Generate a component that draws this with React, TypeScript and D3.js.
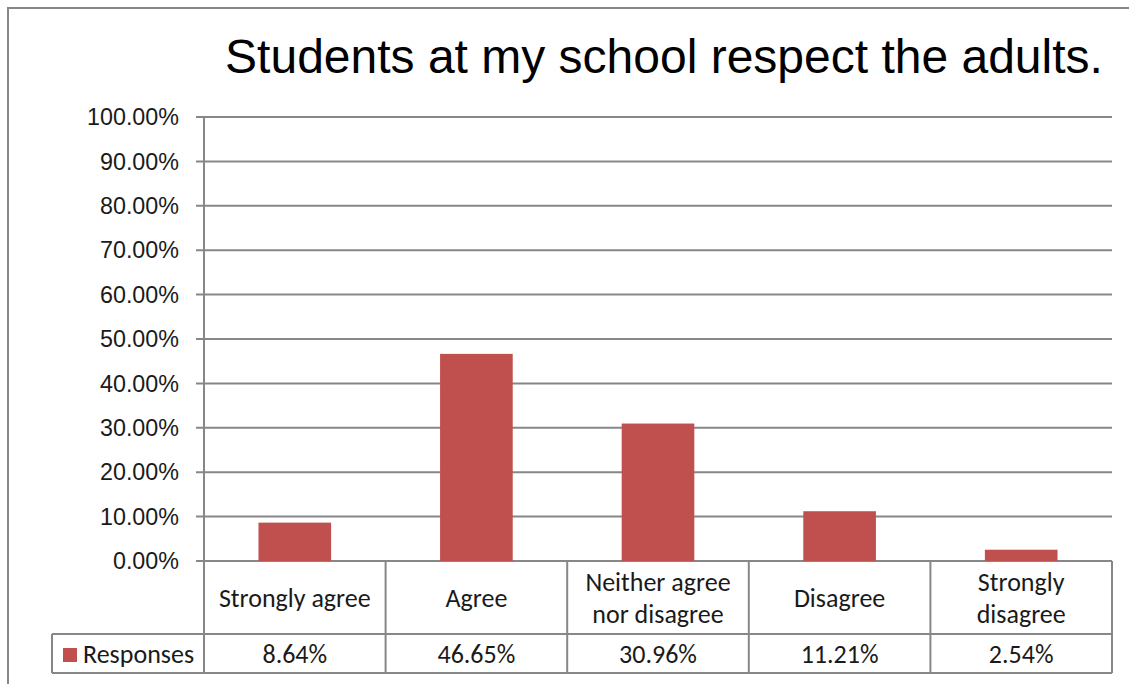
import React from "react";
import * as d3 from "d3";

const title = "Students at my school respect the adults.";
const categories = ["Strongly agree", "Agree", "Neither agree nor disagree", "Disagree", "Strongly disagree"];
const categoryLines = [["Strongly agree"], ["Agree"], ["Neither agree", "nor disagree"], ["Disagree"], ["Strongly", "disagree"]];
const seriesName = "Responses";
const values = [8.64, 46.65, 30.96, 11.21, 2.54];
const yTicks = [0, 10, 20, 30, 40, 50, 60, 70, 80, 90, 100];

const W = 1129;
const H = 684;
const plot = { left: 204, right: 1112, top: 117, bottom: 561 };
const row1Bottom = 634;
const row2Bottom = 673;
const legendLeft = 52;
const grid = "#878787";
const barColor = "#C0504D";
const tableFont = "Carlito, Calibri, Lato, sans-serif";
const axisFont = "'Liberation Sans', Arial, sans-serif";

export default function App() {
  const x = d3
    .scaleBand<string>()
    .domain(categories)
    .range([plot.left, plot.right])
    .paddingInner(0.6)
    .paddingOuter(0.3);
  const y = d3.scaleLinear().domain([0, 100]).range([plot.bottom, plot.top]);
  const step = x.step();
  const colEdges = categories.map((c) => (x(c) as number) - x.paddingOuter() * step);

  return (
    <svg
      width={W}
      height={H}
      style={{ position: "absolute", left: 0, top: 0, background: "#fff" }}
    >
      <rect x={8} y={8} width={W + 20} height={H + 20} fill="#fff" stroke={grid} strokeWidth={2} />
      <text
        x={664}
        y={73}
        textAnchor="middle"
        fontFamily={axisFont}
        fontSize={48}
        fill="#000"
      >
        {title}
      </text>
      {/* gridlines */}
      {yTicks.map((t) => (
        <g key={t}>
          <line x1={196} x2={plot.right} y1={y(t)} y2={y(t)} stroke={grid} strokeWidth={2} />
          <text
            x={179}
            y={y(t)}
            dy="0.35em"
            textAnchor="end"
            fontFamily={axisFont}
            fontSize={23.3}
            fill="#1a1a1a"
          >
            {t.toFixed(2) + "%"}
          </text>
        </g>
      ))}
      {/* bars */}
      {categories.map((c, i) => (
        <rect
          key={c}
          x={x(c)}
          y={y(values[i])}
          width={x.bandwidth()}
          height={y(0) - y(values[i])}
          fill={barColor}
        />
      ))}
      {/* axis */}
      <line x1={plot.left} x2={plot.left} y1={plot.top} y2={row2Bottom} stroke={grid} strokeWidth={2} />
      {/* data table */}
      <line x1={legendLeft} x2={plot.right} y1={row1Bottom} y2={row1Bottom} stroke={grid} strokeWidth={2} />
      <line x1={legendLeft} x2={plot.right} y1={row2Bottom} y2={row2Bottom} stroke={grid} strokeWidth={2} />
      <line x1={legendLeft} x2={legendLeft} y1={row1Bottom} y2={row2Bottom} stroke={grid} strokeWidth={2} />
      <line x1={plot.right} x2={plot.right} y1={plot.bottom} y2={row2Bottom} stroke={grid} strokeWidth={2} />
      {colEdges.map((e, i) =>
        i === 0 ? null : (
          <line key={i} x1={e} x2={e} y1={plot.bottom} y2={row2Bottom} stroke={grid} strokeWidth={2} />
        )
      )}
      {categories.map((c, i) => {
        const cx = colEdges[i] + step / 2;
        const lines = categoryLines[i];
        const mid = (plot.bottom + row1Bottom) / 2;
        const lh = 32;
        return (
          <g key={c}>
            {lines.map((ln, j) => (
              <text
                key={j}
                x={cx}
                y={mid + (j - (lines.length - 1) / 2) * lh}
                dy="0.35em"
                textAnchor="middle"
                fontFamily={tableFont}
                fontSize={26}
                fill="#1a1a1a"
              >
                {ln}
              </text>
            ))}
            <text
              x={cx}
              y={(row1Bottom + row2Bottom) / 2}
              dy="0.35em"
              textAnchor="middle"
              fontFamily={tableFont}
              fontSize={26}
              fill="#1a1a1a"
            >
              {values[i].toFixed(2) + "%"}
            </text>
          </g>
        );
      })}
      <rect x={63} y={648} width={14} height={14} fill={barColor} />
      <text
        x={83}
        y={(row1Bottom + row2Bottom) / 2}
        dy="0.35em"
        fontFamily={tableFont}
        fontSize={26}
        fill="#1a1a1a"
      >
        {seriesName}
      </text>
    </svg>
  );
}
